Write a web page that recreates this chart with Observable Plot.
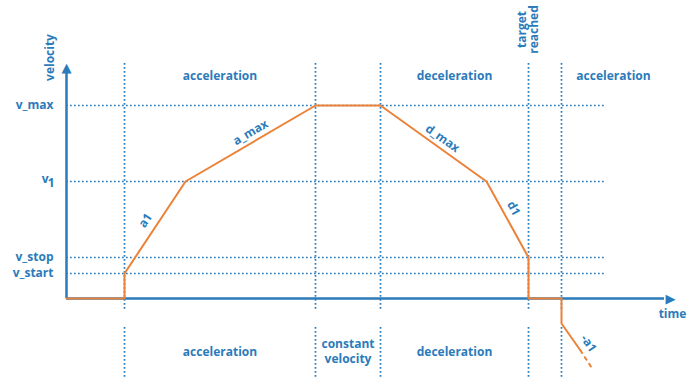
<!DOCTYPE html>
<html><head><meta charset="utf-8">
<script src="https://cdn.jsdelivr.net/npm/d3@7"></script>
<script src="https://cdn.jsdelivr.net/npm/@observablehq/plot@0.6"></script>
<style>body{margin:0;background:#fff}</style>
</head><body><div id="chart"></div>
<script>
// velocity profile (time units, velocity units)
const profileT = [0, 5.8, 5.8, 11.9, 24.9, 31.4, 42.0, 46.2, 46.2, 49.5, 49.5, 51.4];
const profileV = [0, 0, 2.5, 11.7, 19.3, 19.3, 11.7, 4.1, 0, 0, -2.5, -5.2];
const tailT = [51.4, 52.7];
const tailV = [-5.2, -7.2];

// reference levels (y tick labels)
const levelNames = ["v_max", "v", "v_stop", "v_start"];
const levelSubs = ["", "1", "", ""];
const levelValues = [19.3, 11.7, 4.1, 2.5];

// phase boundaries
const phaseBounds = [5.8, 24.9, 31.4, 46.2, 49.5];
const topPhaseLabels = ["acceleration", "deceleration", "acceleration"];
const topPhaseX = [15.35, 38.8, 54.7];
const bottomPhaseLabels = ["acceleration", "constant\nvelocity", "deceleration"];
const bottomPhaseX = [15.35, 28.15, 38.8];

// slope labels
const slopeNames = ["a1", "a_max", "d_max", "d1", "-a1"];
const slopeT = [7.9, 18.4, 37.6, 44.7, 52.2];
const slopeV = [7.8, 16.6, 16.0, 9.0, -4.5];
const slopeAngle = [-56.5, -30.3, 35.6, 61, 55];

const blue = "#2b7bba";
const orange = "#ec8238";
const font = "'Open Sans', sans-serif";

const profile = profileT.map((t, i) => ({t, v: profileV[i]}));
const tail = tailT.map((t, i) => ({t, v: tailV[i]}));
const levels = levelNames.map((n, i) => ({name: n, sub: levelSubs[i], v: levelValues[i]}));
const topLabels = topPhaseLabels.map((s, i) => ({s, t: topPhaseX[i]}));
const bottomLabels = bottomPhaseLabels.map((s, i) => ({s, t: bottomPhaseX[i]}));
const slopes = slopeNames.map((s, i) => ({s, t: slopeT[i], v: slopeV[i], a: slopeAngle[i]}));

const yTop = 23.5, gapTop = -1.3, gapBottom = -2.9, yBottom = -7.9, gridEnd = 53.9;
const dots = {stroke: blue, strokeWidth: 1.7, strokeDasharray: "1.7,2.3"};
const label = {fill: blue, fontWeight: "bold", lineAnchor: "middle"};

const chart = Plot.plot({
  width: 693, height: 389,
  marginLeft: 66, marginRight: 0, marginTop: 0, marginBottom: 0,
  x: {domain: [0, 62.7], axis: null},
  y: {domain: [-9.1, 29.8], axis: null},
  style: {fontFamily: font, background: "#fff"},
  marks: [
    Plot.ruleX(phaseBounds, {x: d => d, y1: yTop, y2: gapTop, ...dots}),
    Plot.ruleX(phaseBounds, {x: d => d, y1: gapBottom, y2: yBottom, ...dots}),
    Plot.ruleY(levels, {y: "v", x1: 0, x2: gridEnd, ...dots}),
    // axes
    Plot.ruleX([0], {y1: 0, y2: 22.6, stroke: blue, strokeWidth: 2.5}),
    Plot.ruleY([0], {x1: 0, x2: 59.8, stroke: blue, strokeWidth: 2.5}),
    Plot.text(["\u25B2"], {x: 0, y: 23.05, text: d => d, fill: blue, fontSize: 13, fontFamily: "DejaVu Sans", lineAnchor: "middle"}),
    Plot.text(["\u25B6"], {x: 60.4, y: 0, text: d => d, fill: blue, fontSize: 13, fontFamily: "DejaVu Sans", lineAnchor: "middle"}),
    // profile
    Plot.line(profile, {x: "t", y: "v", stroke: orange, strokeWidth: 2}),
    Plot.line(tail, {x: "t", y: "v", stroke: orange, strokeWidth: 2, strokeDasharray: "3,5"}),
    // tick labels
    Plot.text(levels.filter(d => !d.sub), {x: 0, y: "v", text: "name", textAnchor: "end", fontSize: 12, dx: -13, ...label}),
    Plot.text(levels.filter(d => d.sub), {x: 0, y: "v", text: "name", textAnchor: "end", fontSize: 12, dx: -18, dy: -2, ...label}),
    Plot.text(levels.filter(d => d.sub), {x: 0, y: "v", text: "sub", textAnchor: "end", fontSize: 12, dx: -12, dy: 2, ...label}),
    // axis titles
    Plot.text(["velocity"], {x: -1.6, y: 24.1, text: d => d, rotate: -90, fontSize: 12, ...label}),
    Plot.text(["time"], {x: 60.6, y: -1.6, text: d => d, fontSize: 12, ...label}),
    Plot.text(["target\nreached"], {x: 46.2, y: 26.9, text: d => d, rotate: -90, fontSize: 12, lineHeight: 0.95, ...label}),
    // phase labels
    Plot.text(topLabels, {x: "t", y: 22.2, text: "s", fontSize: 12, ...label}),
    Plot.text(bottomLabels, {x: "t", y: -5.2, text: "s", fontSize: 12, lineHeight: 1.3, ...label}),
    // slope labels
    Plot.text(slopes, {x: "t", y: "v", text: "s", rotate: "a", fontSize: 12, ...label})
  ]
});
document.getElementById("chart").appendChild(chart);
</script>
</body></html>
